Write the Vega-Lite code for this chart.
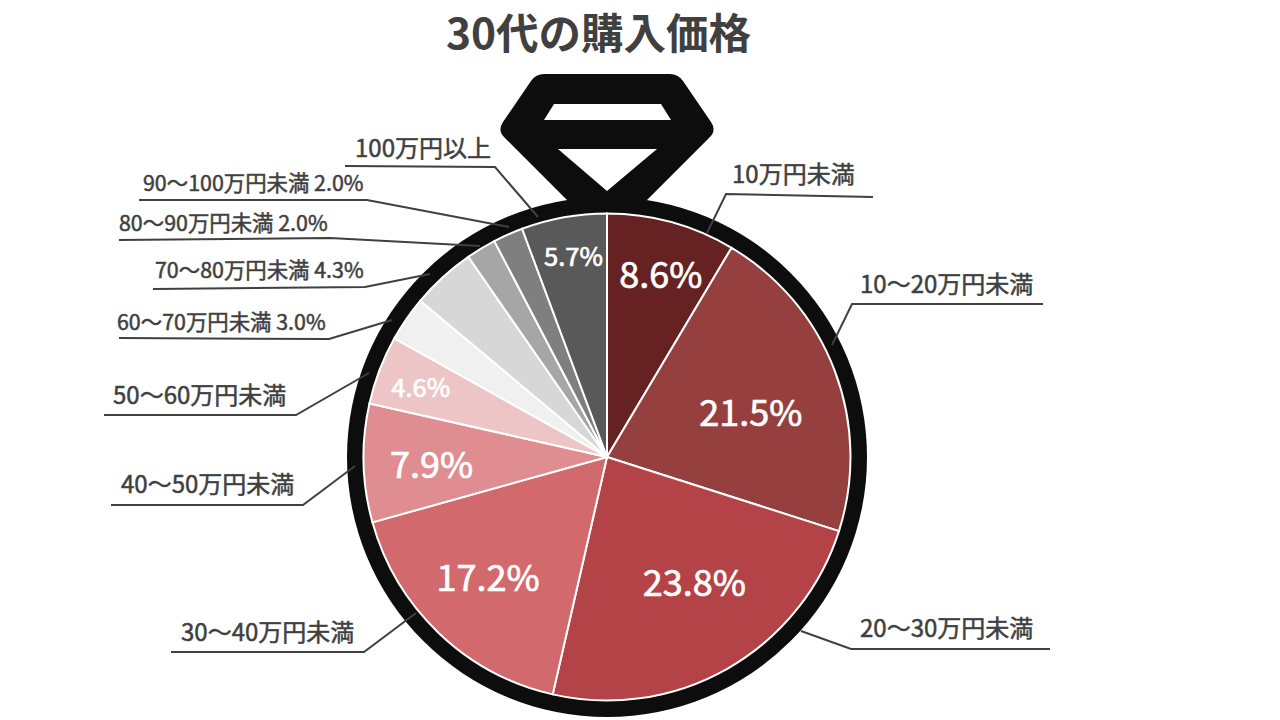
{
  "$schema": "https://vega.github.io/schema/vega-lite/v6.json",
  "autosize": {"type": "none"},
  "padding": 0,
  "width": 1280,
  "height": 720,
  "background": "#ffffff",
  "view": {"stroke": null},
  "datasets": {
    "slices": [
      {"seq": 1, "name": "10万円未満", "value": 8.6, "inside": "8.6%"},
      {"seq": 2, "name": "10～20万円未満", "value": 21.5, "inside": "21.5%"},
      {"seq": 3, "name": "20～30万円未満", "value": 23.8, "inside": "23.8%"},
      {"seq": 4, "name": "30～40万円未満", "value": 17.2, "inside": "17.2%"},
      {"seq": 5, "name": "40～50万円未満", "value": 7.9, "inside": "7.9%"},
      {"seq": 6, "name": "50～60万円未満", "value": 4.6, "inside": "4.6%"},
      {"seq": 7, "name": "60～70万円未満", "value": 3.0, "inside": ""},
      {"seq": 8, "name": "70～80万円未満", "value": 4.3, "inside": ""},
      {"seq": 9, "name": "80～90万円未満", "value": 2.0, "inside": ""},
      {"seq": 10, "name": "90～100万円未満", "value": 2.0, "inside": ""},
      {"seq": 11, "name": "100万円以上", "value": 5.7, "inside": "5.7%"}
    ],
    "callouts": [
      {"text": "10万円未満", "px": 732, "py": 174},
      {"text": "10～20万円未満", "px": 860, "py": 284},
      {"text": "20～30万円未満", "px": 860, "py": 628},
      {"text": "30～40万円未満", "px": 181, "py": 632},
      {"text": "40～50万円未満", "px": 121, "py": 484},
      {"text": "50～60万円未満", "px": 113, "py": 395},
      {"text": "60～70万円未満 3.0%", "px": 117, "py": 322},
      {"text": "70～80万円未満 4.3%", "px": 155, "py": 270},
      {"text": "80～90万円未満 2.0%", "px": 119, "py": 223},
      {"text": "90～100万円未満 2.0%", "px": 143, "py": 183},
      {"text": "100万円以上", "px": 355, "py": 148}
    ],
    "leaders": [
      {"name": "a", "seq": 1, "px": 707, "py": 233},
      {"name": "a", "seq": 2, "px": 726, "py": 194},
      {"name": "a", "seq": 3, "px": 873, "py": 197},
      {"name": "b", "seq": 1, "px": 832, "py": 345},
      {"name": "b", "seq": 2, "px": 852, "py": 304},
      {"name": "b", "seq": 3, "px": 1043, "py": 304},
      {"name": "c", "seq": 1, "px": 801, "py": 631},
      {"name": "c", "seq": 2, "px": 851, "py": 649},
      {"name": "c", "seq": 3, "px": 1050, "py": 649},
      {"name": "d", "seq": 1, "px": 416, "py": 613},
      {"name": "d", "seq": 2, "px": 364, "py": 652},
      {"name": "d", "seq": 3, "px": 171, "py": 652},
      {"name": "e", "seq": 1, "px": 355, "py": 466},
      {"name": "e", "seq": 2, "px": 303, "py": 505},
      {"name": "e", "seq": 3, "px": 111, "py": 505},
      {"name": "f", "seq": 1, "px": 369, "py": 373},
      {"name": "f", "seq": 2, "px": 296, "py": 415},
      {"name": "f", "seq": 3, "px": 104, "py": 415},
      {"name": "g", "seq": 1, "px": 392, "py": 320},
      {"name": "g", "seq": 2, "px": 329, "py": 339},
      {"name": "g", "seq": 3, "px": 119, "py": 338},
      {"name": "h", "seq": 1, "px": 430, "py": 274},
      {"name": "h", "seq": 2, "px": 365, "py": 287},
      {"name": "h", "seq": 3, "px": 153, "py": 289},
      {"name": "i", "seq": 1, "px": 480, "py": 246},
      {"name": "i", "seq": 2, "px": 330, "py": 238},
      {"name": "i", "seq": 3, "px": 119, "py": 240},
      {"name": "j", "seq": 1, "px": 509, "py": 227},
      {"name": "j", "seq": 2, "px": 367, "py": 200},
      {"name": "j", "seq": 3, "px": 139, "py": 200},
      {"name": "k", "seq": 1, "px": 538, "py": 217},
      {"name": "k", "seq": 2, "px": 495, "py": 167},
      {"name": "k", "seq": 3, "px": 345, "py": 166}
    ]
  },
  "layer": [
    {
      "data": {"values": [{"title": "30代の購入価格"}]},
      "mark": {"type": "text", "font": "Noto Sans CJK JP", "fontWeight": "bold", "fontSize": 42.5, "fill": "#404040", "align": "center", "baseline": "middle"},
      "encoding": {
        "x": {"datum": 598.5, "type": "quantitative", "scale": {"domain": [0, 1280], "nice": false}, "axis": null},
        "y": {"datum": 36, "type": "quantitative", "scale": {"domain": [720, 0], "nice": false}, "axis": null},
        "text": {"field": "title"}
      }
    },
    {
      "data": {"values": [{"part": "ring"}]},
      "mark": {"type": "arc", "theta": 0, "theta2": 6.2832, "radius": 260, "fill": "#0d0d0d"},
      "encoding": {
        "x": {"datum": 607, "type": "quantitative", "scale": {"domain": [0, 1280], "nice": false}, "axis": null},
        "y": {"datum": 457, "type": "quantitative", "scale": {"domain": [720, 0], "nice": false}, "axis": null}
      }
    },
    {
      "data": {"values": [{"part": "pendant"}]},
      "mark": {
        "type": "point",
        "filled": true,
        "opacity": 1,
        "size": 4,
        "fill": "#0d0d0d",
        "shape": "M-63,-66 L63,-66 Q71,-66 76,-59 L104,-18 Q110,-9 102,-2 L40,60 L-40,60 L-102,-2 Q-110,-9 -104,-18 L-76,-59 Q-71,-66 -63,-66 Z M-53,-36 L-63,-20 L64,-20 L54,-36 Z M-49,9 L0,51 L50,9 Z"
      },
      "encoding": {
        "x": {"datum": 607, "type": "quantitative", "scale": {"domain": [0, 1280], "nice": false}, "axis": null},
        "y": {"datum": 140, "type": "quantitative", "scale": {"domain": [720, 0], "nice": false}, "axis": null}
      }
    },
    {
      "data": {"name": "slices"},
      "mark": {"type": "arc", "radius": 243.5, "stroke": "#ffffff", "strokeWidth": 2},
      "encoding": {
        "x": {"datum": 607, "type": "quantitative", "scale": {"domain": [0, 1280], "nice": false}, "axis": null},
        "y": {"datum": 457, "type": "quantitative", "scale": {"domain": [720, 0], "nice": false}, "axis": null},
        "theta": {"field": "value", "type": "quantitative", "stack": true},
        "order": {"field": "seq"},
        "color": {
          "field": "name",
          "type": "nominal",
          "legend": null,
          "sort": null,
          "scale": {
            "domain": ["10万円未満", "10～20万円未満", "20～30万円未満", "30～40万円未満", "40～50万円未満", "50～60万円未満", "60～70万円未満", "70～80万円未満", "80～90万円未満", "90～100万円未満", "100万円以上"],
            "range": ["#662222", "#953f3f", "#b34347", "#d26a6d", "#e08d91", "#eec5c7", "#f0f0f0", "#d7d7d7", "#a6a6a6", "#7f7f7f", "#595959"]
          }
        }
      }
    },
    {
      "data": {"name": "slices"},
      "mark": {
        "type": "text",
        "font": "Noto Sans CJK JP",
        "fill": "#ffffff",
        "stroke": "#ffffff",
        "strokeWidth": 0.7,
        "align": "center",
        "baseline": "middle",
        "radius": {"expr": "{'1':190,'2':150,'3':153,'4':170,'5':176,'6':200,'7':0,'8':0,'9':0,'10':0,'11':203}[datum.seq]"},
        "dx": {"expr": "{'1':3,'2':3,'3':11,'4':-2,'5':0,'6':0,'11':2}[datum.seq] || 0"},
        "dy": {"expr": "{'1':3,'2':11,'3':-5,'4':0,'5':6,'6':3,'11':1}[datum.seq] || 0"}
      },
      "encoding": {
        "x": {"datum": 607.5, "type": "quantitative", "scale": {"domain": [0, 1280], "nice": false}, "axis": null},
        "y": {"datum": 457, "type": "quantitative", "scale": {"domain": [720, 0], "nice": false}, "axis": null},
        "theta": {"field": "value", "type": "quantitative", "stack": true},
        "order": {"field": "seq"},
        "detail": {"field": "name"},
        "text": {"field": "inside"},
        "size": {
          "field": "value",
          "type": "quantitative",
          "legend": null,
          "scale": {"type": "threshold", "domain": [6], "range": [25.5, 36]}
        }
      }
    },
    {
      "data": {"name": "leaders"},
      "mark": {"type": "line", "stroke": "#404040", "strokeWidth": 2},
      "encoding": {
        "x": {"field": "px", "type": "quantitative", "scale": {"domain": [0, 1280], "nice": false}, "axis": null},
        "y": {"field": "py", "type": "quantitative", "scale": {"domain": [720, 0], "nice": false}, "axis": null},
        "detail": {"field": "name"},
        "order": {"field": "seq"}
      }
    },
    {
      "data": {"name": "callouts"},
      "mark": {"type": "text", "font": "Noto Sans CJK JP", "fill": "#404040", "stroke": "#404040", "strokeWidth": 0.5, "align": "left", "baseline": "middle", "dy": 2},
      "encoding": {
        "x": {"field": "px", "type": "quantitative", "scale": {"domain": [0, 1280], "nice": false}, "axis": null},
        "y": {"field": "py", "type": "quantitative", "scale": {"domain": [720, 0], "nice": false}, "axis": null},
        "text": {"field": "text"},
        "size": {"condition": {"test": "indexof(datum.text, '%') > 0", "value": 21.4}, "value": 24}
      }
    }
  ]
}
